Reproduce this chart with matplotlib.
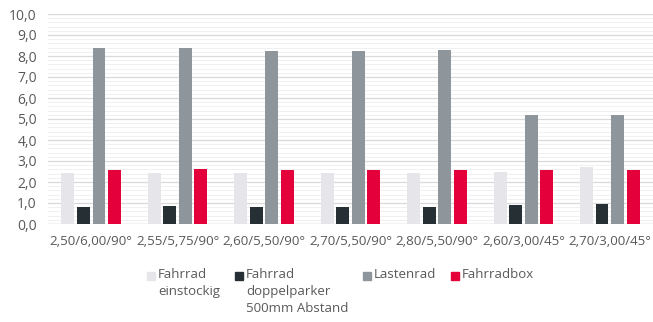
import numpy as np
import matplotlib.pyplot as plt
from matplotlib.patches import Rectangle
from matplotlib.ticker import MultipleLocator, FuncFormatter

plt.rcParams['font.family'] = ['Open Sans', 'DejaVu Sans']

configs = ['2,50/6,00/90°', '2,55/5,75/90°', '2,60/5,50/90°', '2,70/5,50/90°',
           '2,80/5,50/90°', '2,60/3,00/45°', '2,70/3,00/45°']
einstockig = [2.45, 2.45, 2.41, 2.41, 2.41, 2.48, 2.70]
doppelparker = [0.80, 0.86, 0.80, 0.82, 0.80, 0.89, 0.95]
lastenrad = [8.38, 8.38, 8.25, 8.25, 8.28, 5.17, 5.17]
fahrradbox = [2.58, 2.60, 2.55, 2.55, 2.55, 2.55, 2.55]

series = [einstockig, doppelparker, lastenrad, fahrradbox]
names = ['Fahrrad\neinstockig', 'Fahrrad\ndoppelparker\n500mm Abstand', 'Lastenrad', 'Fahrradbox']
colors = ['#E6E6EA', '#263034', '#8E959B', '#E4003A']
txt = '#595959'

W, H = 653, 322
fig = plt.figure(figsize=(W / 100, H / 100), dpi=100)
ax = fig.add_axes([48 / W, 1 - 224 / H, 1 - 48 / W, 210 / H])

x = np.arange(len(configs))
w = 0.15
step = 0.18
for i, (vals, c) in enumerate(zip(series, colors)):
    ax.bar(x + (i - 1.5) * step, vals, w, color=c, zorder=3)

ax.set_xlim(-0.5, len(configs) - 0.5)
ax.set_ylim(0, 10)
ax.yaxis.set_major_locator(MultipleLocator(1))
ax.yaxis.set_minor_locator(MultipleLocator(0.2))
ax.yaxis.set_major_formatter(FuncFormatter(lambda v, p: f'{v:.1f}'.replace('.', ',')))
ax.grid(axis='y', which='major', color='#D9D9D9', lw=0.9, zorder=0)
ax.grid(axis='y', which='minor', color='#F0F0F0', lw=0.7, zorder=0)
for s in ax.spines.values():
    s.set_visible(False)
ax.axhline(0, color='#D9D9D9', lw=1, zorder=2)

ax.set_xticks(x)
ax.set_xticklabels(configs)
ax.tick_params(axis='both', which='both', length=0, labelsize=10, colors=txt)
ax.tick_params(axis='x', pad=8, labelsize=9.6)
ax.tick_params(axis='y', pad=8)

# legend built by hand so that multi-line labels hang from the top line
leg_sq = [147, 235, 363, 451]
for px, name, c in zip(leg_sq, names, colors):
    fig.add_artist(Rectangle((px / W, 1 - 280 / H), 8 / W, 8 / H,
                             transform=fig.transFigure, color=c))
    fig.text((px + 11) / W, 1 - 268 / H, name, ha='left', va='top',
             fontsize=9.5, color=txt, linespacing=1.4)

fig.savefig('out.png', dpi=100)
